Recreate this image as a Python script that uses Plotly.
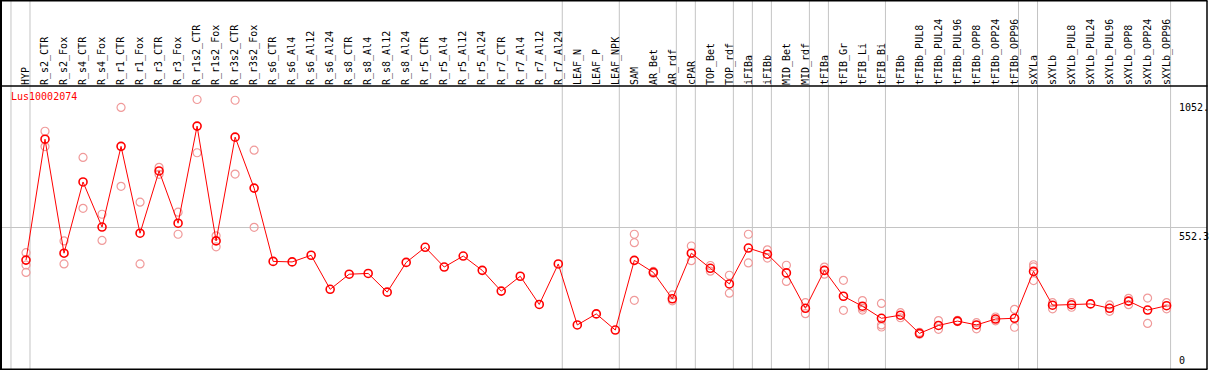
import plotly.graph_objects as go

categories = ["HYP", "R_s2_CTR", "R_s2_Fox", "R_s4_CTR", "R_s4_Fox", "R_r1_CTR", "R_r1_Fox",
              "R_r3_CTR", "R_r3_Fox", "R_r1s2_CTR", "R_r1s2_Fox", "R_r3s2_CTR", "R_r3s2_Fox",
              "R_s6_CTR", "R_s6_Al4", "R_s6_Al12", "R_s6_Al24", "R_s8_CTR", "R_s8_Al4",
              "R_s8_Al12", "R_s8_Al24", "R_r5_CTR", "R_r5_Al4", "R_r5_Al12", "R_r5_Al24",
              "R_r7_CTR", "R_r7_Al4", "R_r7_Al12", "R_r7_Al24", "LEAF_N", "LEAF_P", "LEAF_NPK",
              "SAM", "AR_Bet", "AR_rdf", "cPAR", "TOP_Bet", "TOP_rdf", "iFIBa", "iFIBb",
              "MID_Bet", "MID_rdf", "tFIBa", "tFIB_Gr", "tFIB_Li", "tFIB_Bi", "tFIBb",
              "tFIBb_PUL8", "tFIBb_PUL24", "tFIBb_PUL96", "tFIBb_OPP8", "tFIBb_OPP24",
              "tFIBb_OPP96", "sXYLa", "sXYLb", "sXYLb_PUL8", "sXYLb_PUL24", "sXYLb_PUL96",
              "sXYLb_OPP8", "sXYLb_OPP24", "sXYLb_OPP96"]

mean_values = [425, 897, 452, 730, 554, 869, 530, 773, 569, 948, 500, 905, 706,
               420, 418, 444, 311, 370, 373, 300, 416, 475, 398, 441, 385,
               304, 362, 252, 410, 172, 215, 152,
               424, 377, 274, 452, 393, 332, 472, 448, 375, 237, 385, 284, 245, 198, 210,
               139, 170, 187, 172, 195, 198, 381, 249, 251, 254, 237, 265, 230, 247]

replicate_values = [
    [454, 406, 377], [928, 868], [500, 410], [826, 627], [604, 502], [1021, 713], [651, 410],
    [787, 760], [612, 526], [1052, 844], [520, 477], [1049, 761], [854, 553],
    [], [], [], [], [], [], [], [], [], [], [], [], [], [], [], [], [], [], [],
    [526, 493, 268], [381, 374], [289, 266], [480, 423], [404, 382], [366, 296],
    [526, 414], [465, 433], [405, 342], [259, 216], [398, 370], [346, 229],
    [267, 238, 230], [256, 172, 164], [220, 200],
    [143, 136], [189, 155], [190, 185], [181, 157], [203, 188], [233, 163],
    [407, 399, 345], [259, 235], [259, 241], [], [250, 225], [276, 251], [277, 178], [259, 235]]

separator_after = ["HYP", "R_r7_Al24", "LEAF_NPK", "AR_rdf", "cPAR", "TOP_rdf", "iFIBa",
                   "iFIBb", "MID_rdf", "tFIBa", "tFIB_Bi", "tFIBb_OPP96", "sXYLa", "sXYLb_OPP96"]

y_tick_values = [0, 552.3, 1052]
y_tick_labels = ["0", "552.3", "1052."]
gene_name = "Lus10002074"

W, H = 1209, 370
TOP = 86
idx = list(range(len(categories)))

rep_x, rep_y = [], []
for i, reps in enumerate(replicate_values):
    for v in reps:
        rep_x.append(i)
        rep_y.append(v)

fig = go.Figure()
fig.add_trace(go.Scatter(
    x=rep_x, y=rep_y, mode="markers",
    marker=dict(symbol="circle-open", size=8, color="#F09A9A", line=dict(width=1.2, color="#F09A9A")),
    hoverinfo="skip", showlegend=False, cliponaxis=False))
fig.add_trace(go.Scatter(
    x=idx, y=mean_values, mode="lines+markers",
    line=dict(color="#FF0000", width=1),
    marker=dict(symbol="circle-open", size=8, color="#FF0000", line=dict(width=1.6, color="#FF0000")),
    showlegend=False, cliponaxis=False))

px_per_cat = 19.01
r0 = -26 / px_per_cat
r1 = r0 + W / px_per_cat
scale = 283 / 1104.6
ymin = -1 / scale
ymax = 1104.6

PH = H - TOP
shapes = []
top_paper = 1 + (TOP - 0.75) / PH
for name in separator_after:
    i = categories.index(name)
    shapes.append(dict(type="line", xref="x", yref="paper", x0=i + 0.21, x1=i + 0.21,
                       y0=0, y1=top_paper, line=dict(color="#C4C4C4", width=1), layer="below"))
# extra separator before first category
shapes.append(dict(type="line", xref="x", yref="paper", x0=-1 + 0.21, x1=-1 + 0.21,
                   y0=0, y1=top_paper, line=dict(color="#C4C4C4", width=1), layer="below"))
shapes.append(dict(type="line", xref="paper", yref="y", x0=0, x1=1207 / W, y0=552.3, y1=552.3,
                   line=dict(color="#C4C4C4", width=1), layer="below"))
# frame
bottom_paper = (H - 369.3) / PH
shapes.append(dict(type="line", xref="paper", yref="paper", x0=0, x1=1207.5 / W, y0=1, y1=1,
                   line=dict(color="black", width=1.5)))
shapes.append(dict(type="line", xref="paper", yref="paper", x0=0, x1=1207.5 / W, y0=bottom_paper, y1=bottom_paper,
                   line=dict(color="black", width=1.5)))
shapes.append(dict(type="line", xref="paper", yref="paper", x0=0, x1=1207.5 / W, y0=top_paper, y1=top_paper,
                   line=dict(color="black", width=1.5)))
shapes.append(dict(type="line", xref="paper", yref="paper", x0=1 / W, x1=1 / W, y0=bottom_paper, y1=top_paper,
                   line=dict(color="black", width=2)))
shapes.append(dict(type="line", xref="paper", yref="paper", x0=1207 / W, x1=1207 / W, y0=bottom_paper, y1=top_paper,
                   line=dict(color="black", width=1.5)))

mono = "DejaVu Sans Mono"
annotations = [dict(text=gene_name, xref="paper", yref="paper", x=9 / W, y=1 - (97 - TOP) / PH,
                    xanchor="left", yanchor="middle", showarrow=False,
                    font=dict(family=mono, size=10, color="#FF0000"))]
anchors = {"0": ("bottom", 1), "552.3": ("top", -1), "1052.": ("top", -1)}
for v, t in zip(y_tick_values, y_tick_labels):
    ya, sh = anchors[t]
    annotations.append(dict(text=t, xref="paper", yref="y", x=1177 / W, y=v, xanchor="left",
                            yanchor=ya, yshift=sh, showarrow=False,
                            font=dict(family=mono, size=10, color="black")))

fig.update_layout(
    width=W, height=H,
    margin=dict(l=0, r=0, t=TOP, b=0, pad=0, autoexpand=False),
    paper_bgcolor="white", plot_bgcolor="white",
    xaxis=dict(range=[r0, r1], side="top", tickmode="array", tickvals=idx, ticktext=categories,
               tickangle=-90, showgrid=False, zeroline=False, showline=False, ticks="",
               tickfont=dict(family=mono, size=10, color="black"), ticklabelstandoff=0,
               automargin=False),
    yaxis=dict(range=[ymin, ymax], showgrid=False, zeroline=False, showline=False,
               showticklabels=False, ticks="", automargin=False),
    shapes=shapes, annotations=annotations,
)

fig.write_html("out.html", config={"displayModeBar": False},
               post_script="document.body.style.margin='0';document.body.style.overflow='hidden';")
